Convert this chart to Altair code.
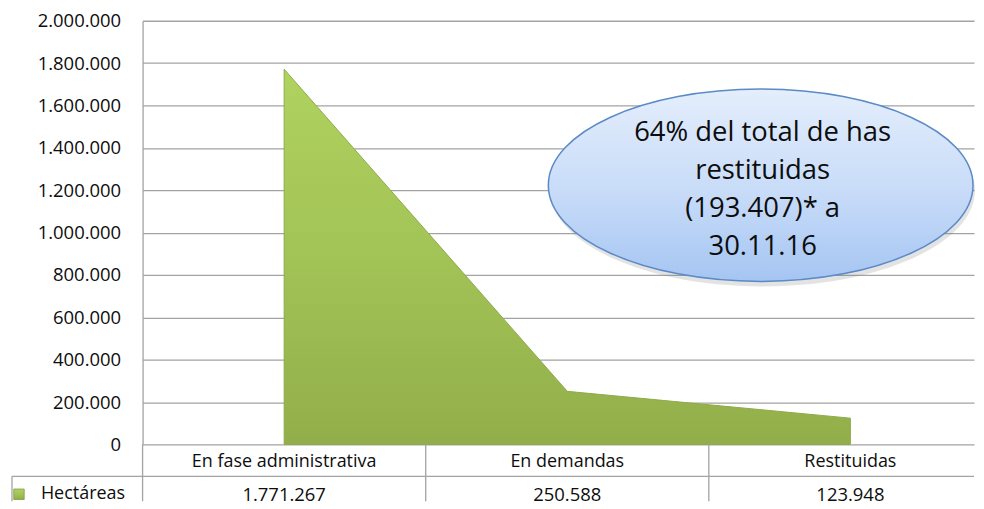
import altair as alt
import pandas as pd

# ---- data ----
categorias = ["En fase administrativa", "En demandas", "Restituidas"]
hectareas = [1771267, 250588, 123948]
serie = "Hectáreas"
y_ticks = [0, 200000, 400000, 600000, 800000, 1000000, 1200000, 1400000,
           1600000, 1800000, 2000000]
nota = ["64% del total de has", "restituidas", "(193.407)* a", "30.11.16"]

# ---- layout / style ----
FONT = "Open Sans"
TXT = "#0d0d0d"
GRID = "#a3a3a3"
W, H = 834, 425
BAND = 284.0
XMAX = W / BAND

df = pd.DataFrame({
    "pos": [i + 0.5 for i in range(len(categorias))],
    "categoria": categorias,
    "hectareas": hectareas,
    "etiqueta": [f"{v:,}".replace(",", ".") for v in hectareas],
})
bordes = pd.DataFrame({"pos": list(range(len(categorias)))})
uno = pd.DataFrame({"k": [0]})
nota_df = pd.DataFrame({"nota": ["\n".join(nota)]})

xs = alt.Scale(domain=[0, XMAX], nice=False, zero=False)
ys = alt.Scale(domain=[0, 2000000], nice=False)

green = alt.Gradient(gradient="linear", x1=0, x2=0, y1=0, y2=1,
                     stops=[alt.GradientStop(color="#b0d25f", offset=0),
                            alt.GradientStop(color="#a2c356", offset=0.5),
                            alt.GradientStop(color="#92ae4a", offset=1)])
blue = alt.Gradient(gradient="linear", x1=0, x2=0, y1=0, y2=1,
                    stops=[alt.GradientStop(color="#e4eefc", offset=0),
                           alt.GradientStop(color="#c7dbf8", offset=0.55),
                           alt.GradientStop(color="#a5c5f2", offset=1)])

area = alt.Chart(df).mark_area(fill=green, stroke="#8eab49", strokeWidth=1).encode(
    x=alt.X("pos:Q", scale=xs, axis=None),
    y=alt.Y("hectareas:Q", scale=ys, axis=alt.Axis(
        values=y_ticks, title=None, grid=True, gridColor=GRID, gridWidth=1.3,
        domainColor=GRID, domainWidth=1.3, ticks=False, labelPadding=22,
        labelFont=FONT, labelFontSize=18.5, labelColor=TXT,
        labelExpr="replace(format(datum.value, ','), /,/g, '.')")),
)

cat_text = alt.Chart(df).mark_text(font=FONT, fontSize=18, color=TXT).encode(
    x=alt.X("pos:Q", scale=xs), y=alt.value(443), text="categoria:N")
val_text = alt.Chart(df).mark_text(font=FONT, fontSize=18.5, color=TXT).encode(
    x=alt.X("pos:Q", scale=xs), y=alt.value(476), text="etiqueta:N")

vlines = alt.Chart(bordes).mark_rule(color=GRID, strokeWidth=1.3).encode(
    x=alt.X("pos:Q", scale=xs), y=alt.value(H), y2=alt.value(482))
hline = alt.Chart(uno).mark_rule(color=GRID, strokeWidth=1.3).encode(
    x=alt.value(-131), x2=alt.value(W), y=alt.value(457))
lline = alt.Chart(uno).mark_rule(color=GRID, strokeWidth=1.3).encode(
    x=alt.value(-131), y=alt.value(457), y2=alt.value(482))

swatch = alt.Chart(uno).mark_square(fill=green, stroke="#7f9c40", strokeWidth=0.8,
                                    opacity=1, size=110).encode(
    x=alt.value(-124), y=alt.value(475))
leg_text = alt.Chart(uno).mark_text(font=FONT, fontSize=18, color=TXT,
                                    align="left").encode(
    x=alt.value(-102), y=alt.value(475), text=alt.value(serie))

b = 0.453
kb = round(0.5523 * b, 4)
k = 0.5523
ell = (f"M1,0 C1,{kb} {k},{b} 0,{b} C-{k},{b} -1,{kb} -1,0 "
       f"C-1,-{kb} -{k},-{b} 0,-{b} C{k},-{b} 1,-{kb} 1,0 Z")

shadow = alt.Chart(uno).mark_point(shape=ell, filled=True, fill="#7f7f7f",
                                   opacity=0.22, size=426 ** 2, strokeWidth=0).encode(
    x=alt.value(622), y=alt.value(170))
ellipse = alt.Chart(uno).mark_point(shape=ell, filled=True, fill=blue, opacity=1,
                                    stroke="#5b8ac6", strokeWidth=1.5,
                                    size=426 ** 2).encode(
    x=alt.value(620), y=alt.value(165))
nota_text = alt.Chart(nota_df).mark_text(font=FONT, fontSize=27.5, color=TXT,
                                         baseline="middle",
                                         lineBreak="\n", lineHeight=38).encode(
    x=alt.value(622), y=alt.value(113), text="nota:N")

chart = alt.layer(area, vlines, hline, lline, cat_text, val_text, swatch, leg_text,
                  shadow, ellipse, nota_text).properties(
    width=W, height=H,
    padding={"left": 3, "top": 3, "right": 0, "bottom": 0},
    background="white",
).configure_view(stroke=None)

chart.save("out.html", embed_options={"renderer": "svg", "actions": False})
